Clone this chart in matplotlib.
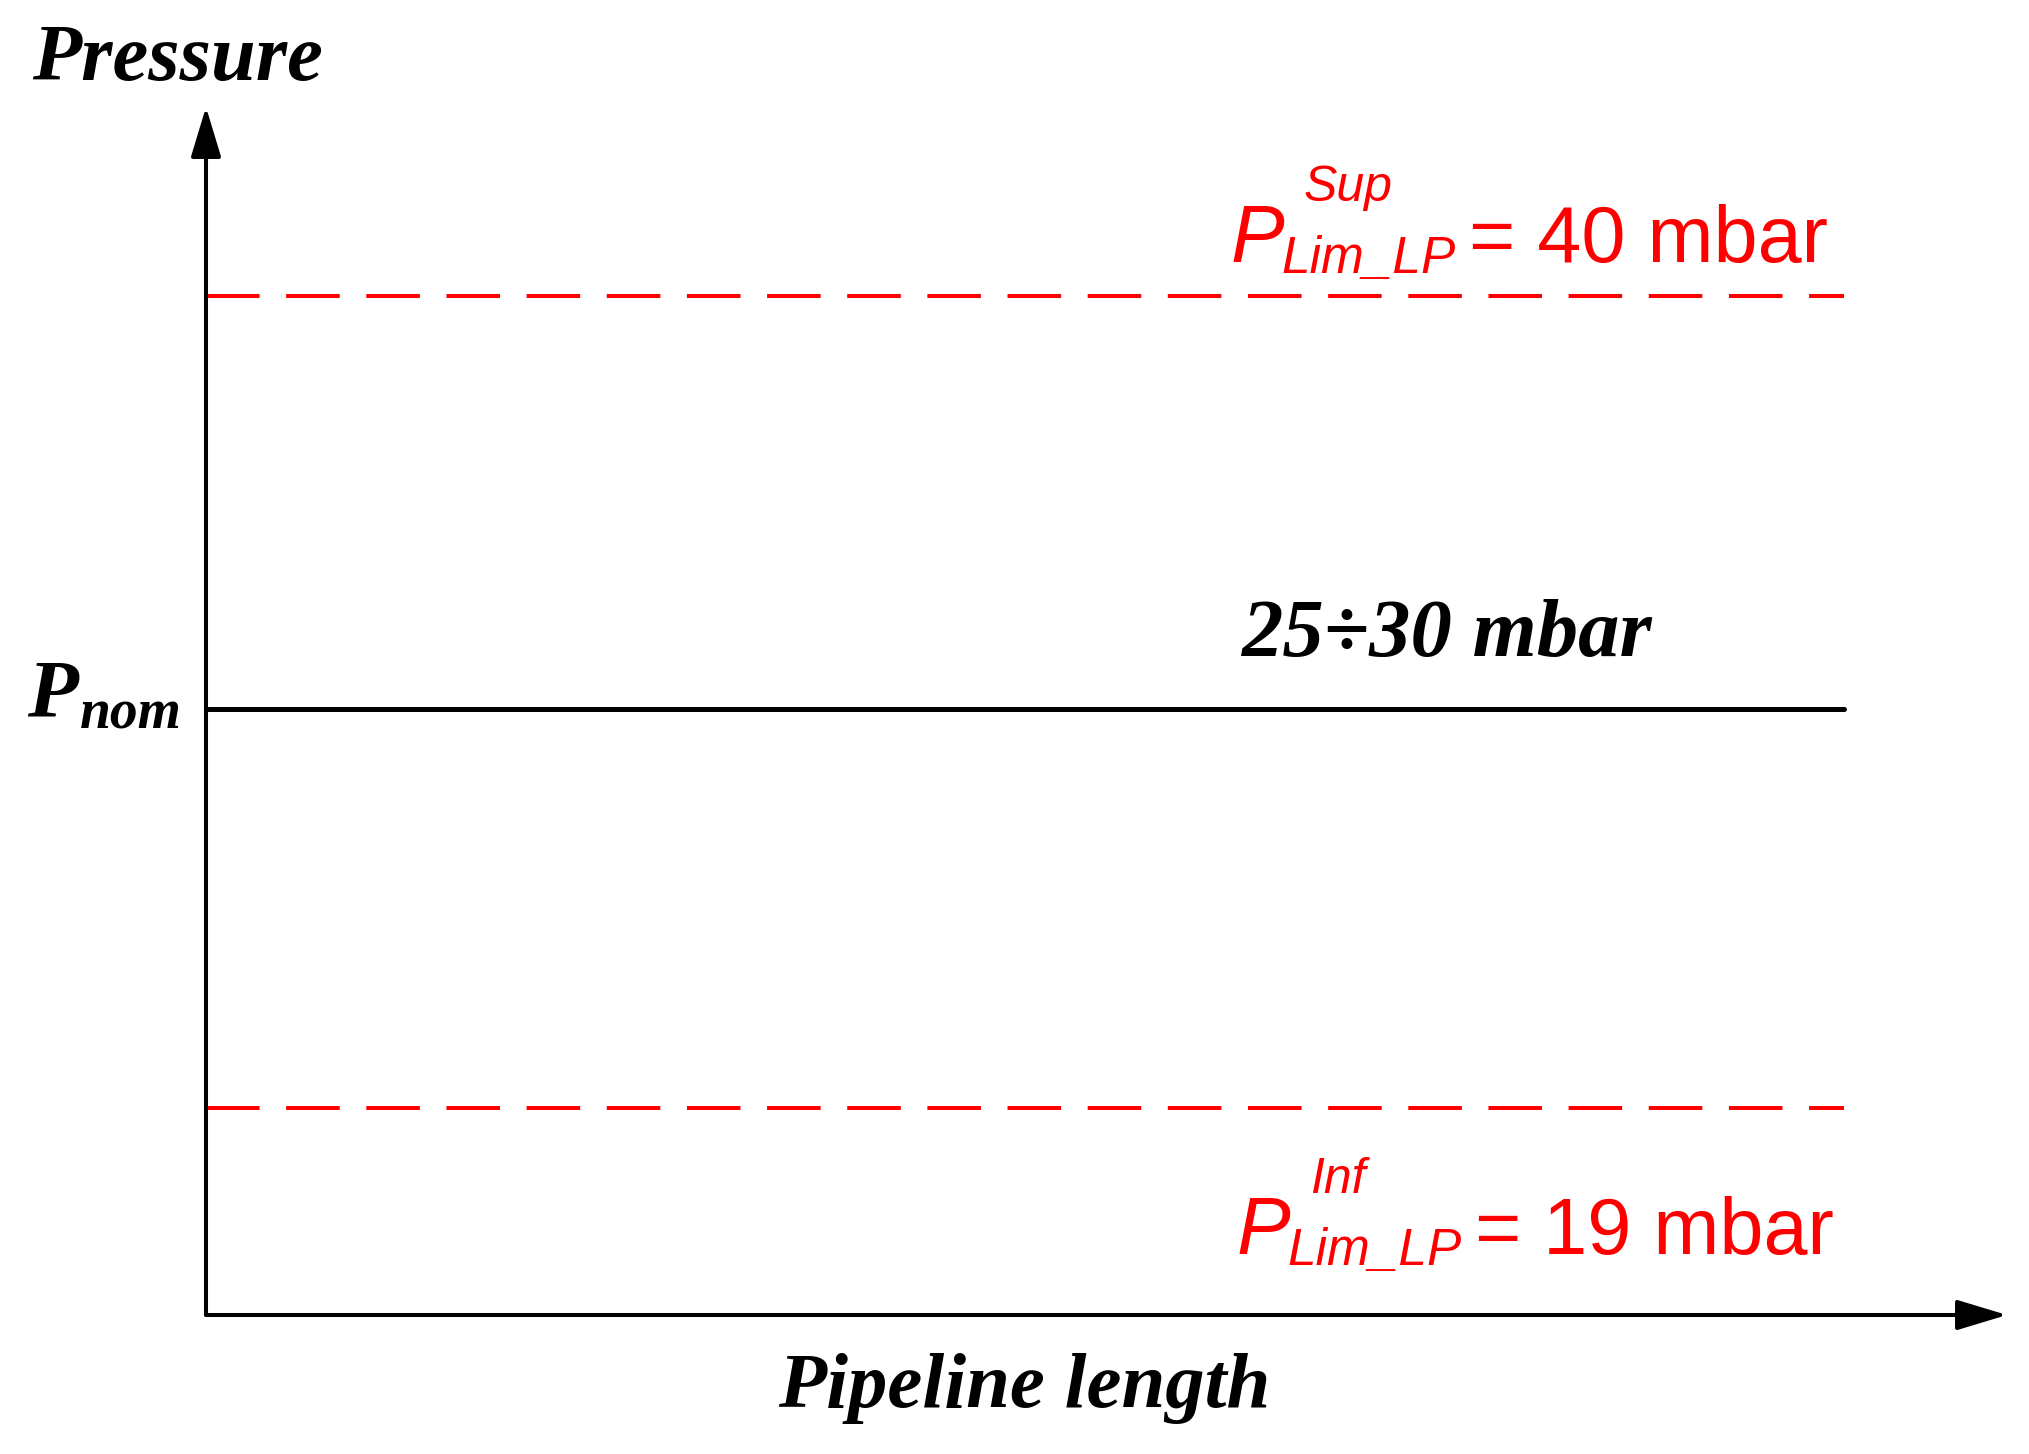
import matplotlib
matplotlib.use("Agg")
import matplotlib.pyplot as plt

W, H, DPI = 2029, 1454, 100

# ---- data (schematic pressure diagram) ----
level_names = ["upper limit", "nominal", "lower limit"]
level_pos = [1.0, 0.595, 0.203]          # schematic heights (axis unit = upper limit)
pipeline_extent = [0.0, 1.0]             # start / end of the pipeline
limit_values_mbar = [40, 19]             # upper / lower limit values
limit_superscripts = ["Sup", "Inf"]
limit_subscript = "Lim_LP"
nominal_range_mbar = [25, 30]
x_label = "Pipeline length"
y_label = "Pressure"

RED = "#ff0000"
SERIF = ["Liberation Serif", "DejaVu Serif"]
SANS = ["Liberation Sans", "DejaVu Sans"]

fig = plt.figure(figsize=(W / DPI, H / DPI), dpi=DPI)
fig.patch.set_facecolor("white")


def fx(x):
    return x / W


def fy(y):
    return 1 - y / H


# axes area: origin at the diagram's corner, x=1 at line end, y=1 at upper limit
ax = fig.add_axes([fx(206), fy(1315), fx(1844) - fx(206), fy(296) - fy(1315)])
ax.set_xlim(0, 1)
ax.set_ylim(0, 1)
ax.axis("off")

# limit lines (dashed red)
for yv in (level_pos[0], level_pos[2]):
    ax.plot(pipeline_extent, [yv, yv], color=RED, lw=2.9,
            dashes=(13.3, 6.6), clip_on=False)

# nominal line
ax.plot(pipeline_extent, [level_pos[1]] * 2, color="black", lw=3.6,
        solid_capstyle="round", clip_on=False)

# axes with arrows
x_tip = (2007 - 206) / (1844 - 206)
y_tip = (1315 - 107) / (1315 - 296)
arrow = dict(arrowstyle="-|>,head_length=0.43,head_width=0.13",
             mutation_scale=72, lw=2.9, color="black", shrinkA=0, shrinkB=0)
ax.annotate("", xy=(x_tip, 0), xytext=(0, 0), arrowprops=arrow,
            annotation_clip=False)
ax.annotate("", xy=(0, y_tip), xytext=(0, 0), arrowprops=arrow,
            annotation_clip=False)

# ---- texts ----
bi = dict(family=SERIF, weight="bold", style="italic", color="black",
          va="baseline", ha="left")
fig.text(fx(32), fy(80), y_label, size=58, **bi)
fig.text(fx(778), fy(1407), x_label, size=56.7, **bi)
fig.text(fx(1241), fy(656),
         f"{nominal_range_mbar[0]}\u00f7{nominal_range_mbar[1]} mbar",
         size=59.5, **bi)
fig.text(fx(27), fy(717), "P", size=60, **bi)
fig.text(fx(80), fy(729), "nom", size=40, **bi)

it = dict(family=SANS, style="italic", color=RED, va="baseline", ha="left")
rm = dict(family=SANS, style="normal", color=RED, va="baseline", ha="left")

label_anchor = [(1231, 262), (1237, 1254)]
for (px, py), sup, val in zip(label_anchor, limit_superscripts, limit_values_mbar):
    fig.text(fx(px), fy(py), "P", size=58, **it)
    fig.text(fx(px + 73), fy(py - 61), sup, size=36, **it)
    fig.text(fx(px + 50), fy(py + 11), limit_subscript, size=37, **it)
    fig.text(fx(px + 238), fy(py), f"= {val} mbar", size=57, **rm)

fig.savefig("out.png", dpi=DPI, facecolor="white")
